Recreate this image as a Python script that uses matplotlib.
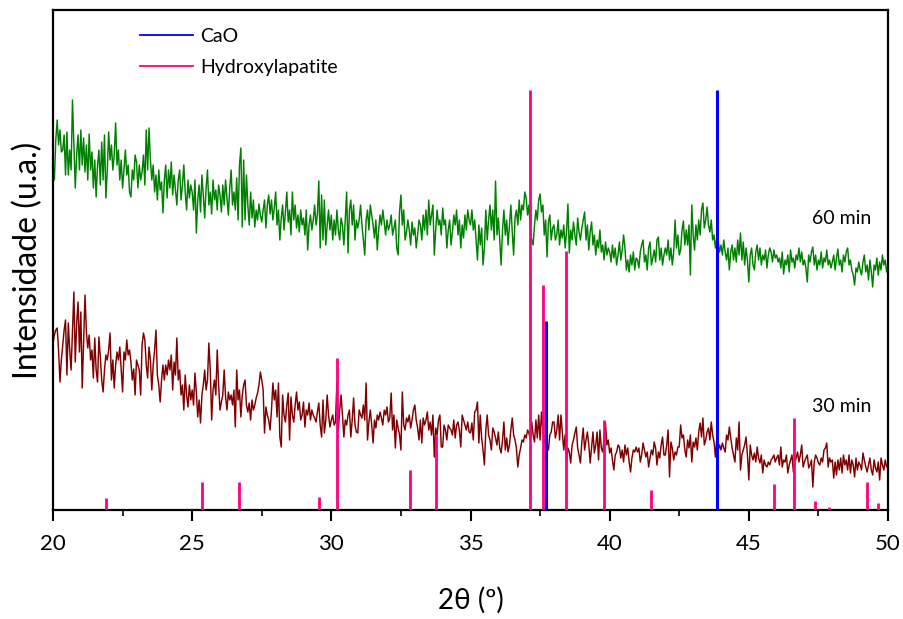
import numpy as np
import matplotlib
matplotlib.use("Agg")
import matplotlib.pyplot as plt
from matplotlib.ticker import MultipleLocator
from matplotlib.lines import Line2D

plt.rcParams['font.family'] = ['Lato', 'DejaVu Sans']

# 2theta grid: 20.00 .. 50.00 step 0.05
two_theta_start = 20.0
two_theta_step = 0.05

# 60 min (green) intensities, arbitrary units, one row per degree
int_60min = [
    345,330,370,390,365,380,358,360,375,335,378,335,360,340,410,365,322,355,375,340,
    380,345,372,338,365,330,376,340,358,322,350,313,345,360,325,368,330,375,312,340,
    378,350,365,340,355,387,345,360,330,350,322,340,360,335,345,318,313,340,330,355,
    348,322,345,330,338,355,325,380,340,382,350,330,345,318,335,310,340,320,328,297,
    330,345,312,340,322,348,315,335,320,305,330,340,310,325,345,318,300,330,312,325,
    318,300,330,277,310,325,298,335,315,292,322,340,305,318,296,330,310,320,300,325,
    315,298,325,305,330,312,295,322,340,305,318,300,332,290,345,362,283,350,290,335,
    305,285,318,292,310,283,300,290,306,295,288,300,310,282,305,315,296,310,290,302,
    318,285,300,270,292,305,280,298,318,288,300,275,318,290,305,282,295,278,300,285,
    292,275,300,260,285,295,280,290,305,285,296,329,262,315,270,310,265,285,300,280,
    295,270,290,275,300,280,270,292,285,265,290,318,257,300,310,285,305,270,290,282,
    290,305,285,270,255,290,300,280,305,295,285,272,290,260,280,295,285,300,288,275,
    290,280,285,295,275,282,290,262,255,298,315,285,300,270,278,290,280,265,288,275,
    282,262,275,290,285,270,295,280,300,275,310,285,295,305,255,280,300,285,290,275,
    302,285,290,262,280,290,265,278,295,285,300,275,290,262,285,272,295,280,300,290,
    285,300,280,290,270,250,285,265,282,245,262,300,270,290,305,280,300,270,329,275,
    292,270,245,280,300,275,290,265,285,305,278,255,292,300,285,310,290,305,300,318,
    312,295,305,280,270,265,285,300,290,310,316,298,305,275,290,253,288,295,270,282,
    285,270,275,290,265,280,272,285,262,278,306,257,280,270,288,275,265,292,278,270,
    282,290,298,270,285,260,278,288,265,275,255,270,262,280,258,265,250,268,255,262,
    258,248,265,252,262,245,255,268,250,260,275,262,240,250,238,255,245,258,240,252,
    250,242,258,265,270,248,255,240,262,268,245,252,260,248,270,273,250,262,245,255,
    262,255,270,250,262,245,258,290,262,275,255,260,280,289,265,280,265,285,235,305,
    275,260,285,270,290,275,300,307,282,290,303,285,278,290,270,275,262,272,268,258,
    265,255,270,258,250,262,240,258,265,250,262,248,270,255,277,250,268,245,262,250,
    228,255,262,245,240,258,265,250,262,245,255,250,260,242,255,262,258,248,260,252,
    255,248,252,242,258,236,250,245,255,238,260,248,252,242,255,250,262,248,258,245,
    250,242,228,255,248,258,263,245,255,240,250,245,258,242,252,248,260,245,250,242,
    248,255,240,252,261,245,250,238,255,248,258,262,245,250,240,235,225,242,238,248,
    240,235,248,255,238,245,230,250,238,223,245,240,252,235,248,240,255,245,250,238,
    245,
]

# 30 min (dark red) intensities, arbitrary units, one row per degree
int_30min = [
    167,175,180,182,160,128,150,165,180,190,135,187,160,140,180,218,148,187,208,158,
    198,122,170,215,178,162,175,150,160,132,172,140,128,173,153,130,118,140,155,150,
    160,177,130,150,122,145,158,150,163,140,118,158,150,170,155,160,148,130,141,115,
    150,145,140,115,165,177,170,145,132,163,150,120,145,160,180,135,125,108,130,145,
    130,145,135,150,140,155,120,148,135,172,130,140,115,125,100,135,115,103,125,110,
    120,105,137,118,93,110,87,115,125,140,120,130,167,140,90,120,130,115,160,125,
    100,108,115,140,113,100,118,110,115,105,120,83,140,110,120,93,115,125,130,105,
    98,107,90,110,100,105,112,117,125,138,130,120,77,103,95,90,80,100,127,110,
    120,93,127,73,63,115,95,88,105,117,70,113,95,88,105,118,100,108,90,95,
    108,83,100,95,107,90,100,95,92,88,98,107,85,73,110,77,90,115,95,83,
    90,95,85,88,128,80,100,115,95,73,90,85,95,100,73,90,112,85,78,77,
    100,95,92,105,90,127,70,88,100,85,67,90,82,95,90,98,92,85,100,95,
    103,88,92,117,80,95,62,90,82,75,60,118,85,80,92,88,95,82,90,100,
    105,90,82,70,90,67,92,85,90,98,80,88,75,95,53,82,75,90,95,63,
    63,85,80,70,85,82,80,75,90,72,85,88,80,63,95,90,85,80,88,78,
    77,87,70,98,100,108,67,95,72,60,45,80,95,75,70,60,82,78,72,65,
    78,62,57,70,88,60,72,58,65,80,92,75,70,62,43,55,62,70,68,75,
    72,80,77,70,88,75,68,90,72,95,70,98,80,67,72,65,60,75,78,88,
    88,72,80,95,70,95,78,60,75,48,62,58,47,65,70,77,83,62,55,47,
    68,82,60,70,78,65,47,62,78,57,65,78,50,80,62,58,72,87,65,70,
    57,62,50,40,55,58,65,63,52,60,48,65,55,62,48,38,52,60,58,63,
    58,62,48,55,67,60,53,58,43,52,60,55,68,62,45,58,52,65,73,55,
    55,65,80,33,68,62,50,58,55,63,63,85,72,75,60,53,70,62,75,48,
    68,63,72,60,78,87,73,92,65,70,78,82,70,88,75,68,53,72,60,65,
    60,67,62,58,75,70,83,72,62,55,48,72,60,88,40,55,60,65,73,55,
    30,65,55,50,57,48,63,52,47,55,37,50,45,43,48,45,50,52,55,48,
    52,55,45,63,43,50,48,55,37,45,50,55,38,47,52,58,48,55,65,43,
    48,52,55,42,45,50,23,48,55,52,47,45,52,48,60,62,67,43,52,48,
    50,32,48,35,50,40,52,37,55,45,50,40,55,37,50,45,33,52,40,48,
    45,40,57,50,43,38,45,52,40,35,50,42,38,48,30,52,45,40,50,43,
    45,
]

# Reference patterns (stick positions, relative heights)
hap_pos = [21.90, 25.35, 26.67, 29.57, 30.19, 32.83, 33.77, 37.12, 37.62,
           38.44, 39.81, 41.47, 45.91, 46.63, 47.39, 47.88, 49.24, 49.65]
hap_h = [12, 28, 28, 13, 152, 40, 75, 420, 225,
         259, 90, 20, 26, 92, 9, 3, 28, 7]
cao_pos = [37.70, 43.86]
cao_h = [189, 420]

series_labels = ["60 min", "30 min"]
legend_labels = ["CaO", "Hydroxylapatite"]

c_green = "#008000"
c_red = "#800000"
c_blue = "#0000FF"
c_pink = "#FF0080"

x60 = two_theta_start + two_theta_step * np.arange(len(int_60min))
x30 = two_theta_start + two_theta_step * np.arange(len(int_30min))

fig = plt.figure(figsize=(9.04, 6.19), dpi=100)
ax = fig.add_axes([53/904, 1 - 510/619, 835/904, 500/619])

ax.plot(x60, int_60min, color=c_green, lw=1.05, zorder=2)
ax.plot(x30, int_30min, color=c_red, lw=1.05, zorder=2)
ax.vlines(hap_pos, 0, hap_h, color=c_pink, lw=2.0, zorder=3)
ax.vlines(cao_pos, 0, cao_h, color=c_blue, lw=2.2, zorder=4)

ax.set_xlim(20, 50)
ax.set_ylim(0, 500)

ax.xaxis.set_major_locator(MultipleLocator(5))
ax.xaxis.set_minor_locator(MultipleLocator(2.5))
ax.tick_params(axis='x', which='major', direction='out', length=8, width=1.5,
               labelsize=16, pad=9)
ax.tick_params(axis='x', which='minor', direction='out', length=4, width=1.2)
ax.set_yticks([])
for s in ax.spines.values():
    s.set_linewidth(1.6)

ax.set_xlabel("2θ (º)", fontsize=20, labelpad=24)
ax.set_ylabel("Intensidade (u.a.)", fontsize=23, labelpad=7)

ax.text(0.945, (510 - 219) / 500, series_labels[0], transform=ax.transAxes,
        ha='center', va='center', fontsize=14)
ax.text(0.945, (510 - 406) / 500, series_labels[1], transform=ax.transAxes,
        ha='center', va='center', fontsize=14)

handles = [Line2D([], [], color=c_blue, lw=1.3),
           Line2D([], [], color=c_pink, lw=1.3)]
ax.legend(handles, legend_labels, loc='upper left', frameon=False,
          bbox_to_anchor=(0.088, 0.992), fontsize=14, handlelength=2.7,
          handletextpad=0.4, labelspacing=0.75, borderaxespad=0.3)

fig.savefig("out.png", dpi=100)
